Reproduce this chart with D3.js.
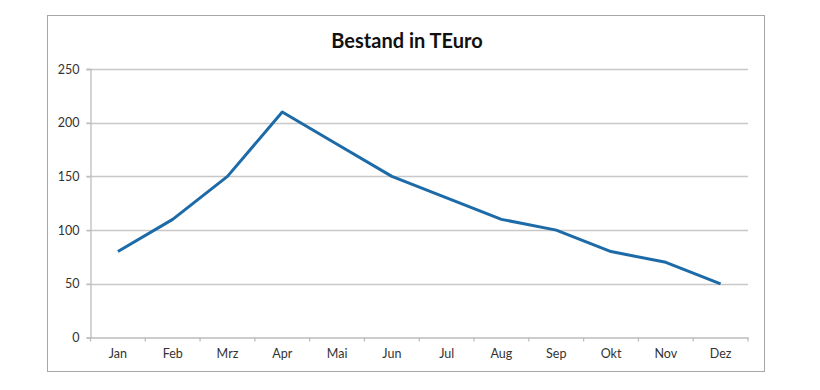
<!DOCTYPE html>
<html>
<head>
<meta charset="utf-8">
<script src="https://cdn.jsdelivr.net/npm/d3@7"></script>
<style>
  body { margin: 0; background: #fff; }
  svg { display: block; }
</style>
</head>
<body>
<svg class="chart"></svg>
<script>
// data
var months = ["Jan", "Feb", "Mrz", "Apr", "Mai", "Jun", "Jul", "Aug", "Sep", "Okt", "Nov", "Dez"];
var bestand = [80, 110, 150, 210, 180, 150, 130, 110, 100, 80, 70, 50];
var yTicks = [0, 50, 100, 150, 200, 250];
var title = "Bestand in TEuro";

var width = 820;
var height = 390;
var font = "Lato, 'Open Sans', sans-serif";
// plot area edges (don't use "top", it is window.top)
var plotLeft = 90.5, plotRight = 748, plotTop = 69, plotBottom = 337.5;

var svg = d3.select(".chart")
  .attr("width", width)
  .attr("height", height)
  .style("font-family", font);

// outer chart border
svg.append("rect")
  .attr("x", 47.5)
  .attr("y", 15.5)
  .attr("width", 717)
  .attr("height", 356)
  .attr("fill", "none")
  .attr("stroke", "#a6a6a6")
  .attr("stroke-width", 1);

var x = d3.scaleBand()
  .domain(months)
  .range([plotLeft, plotRight]);

var y = d3.scaleLinear()
  .domain([0, 250])
  .range([plotBottom, plotTop]);

// grid lines
svg.append("g")
  .selectAll("line")
  .data(yTicks.filter(function(d) { return d > 0; }))
  .enter()
  .append("line")
  .attr("x1", plotLeft - 4)
  .attr("x2", plotRight)
  .attr("y1", function(d) { return Math.round(y(d)) + 0.5; })
  .attr("y2", function(d) { return Math.round(y(d)) + 0.5; })
  .attr("stroke", "#c8c8c8")
  .attr("stroke-width", 1.3);

// y axis
var yAxis = svg.append("g")
  .attr("transform", "translate(" + plotLeft + ",0)")
  .call(d3.axisLeft(y).tickValues(yTicks).tickSize(4).tickPadding(7))
  .attr("font-family", font);
yAxis.select(".domain").attr("stroke", "#bdbdbd").attr("stroke-width", 1.3);
yAxis.selectAll(".tick line").attr("stroke", "#bdbdbd").attr("stroke-width", 1.3);
yAxis.selectAll("text")
  .attr("font-size", "12.5px")
  .attr("fill", "#333");

// x axis
var xAxis = svg.append("g")
  .attr("transform", "translate(0," + plotBottom + ")")
  .call(d3.axisBottom(x).tickSize(0).tickPadding(12))
  .attr("font-family", font);
xAxis.select(".domain").attr("stroke", "#bdbdbd").attr("stroke-width", 1.3);
xAxis.selectAll("text")
  .attr("font-size", "12.5px")
  .attr("fill", "#333");

// category separator ticks
xAxis.selectAll("line.sep")
  .data(months)
  .enter()
  .append("line")
  .attr("class", "sep")
  .attr("x1", function(d) { return x(d); })
  .attr("x2", function(d) { return x(d); })
  .attr("y1", 0)
  .attr("y2", 4)
  .attr("stroke", "#bdbdbd")
  .attr("stroke-width", 1.3);
xAxis.append("line")
  .attr("x1", plotRight).attr("x2", plotRight)
  .attr("y1", 0).attr("y2", 4)
  .attr("stroke", "#bdbdbd")
  .attr("stroke-width", 1.3);

// the line
var line = d3.line()
  .x(function(d, i) { return x(months[i]) + x.bandwidth() / 2; })
  .y(function(d) { return y(d); });

svg.append("path")
  .datum(bestand)
  .attr("d", line)
  .attr("fill", "none")
  .attr("stroke", "#1c6ba8")
  .attr("stroke-width", 3)
  .attr("stroke-linejoin", "round");

// title
svg.append("text")
  .attr("x", 407)
  .attr("y", 48)
  .attr("text-anchor", "middle")
  .attr("font-size", "20px")
  .attr("font-weight", "bold")
  .attr("fill", "#111")
  .text(title);
</script>
</body>
</html>
